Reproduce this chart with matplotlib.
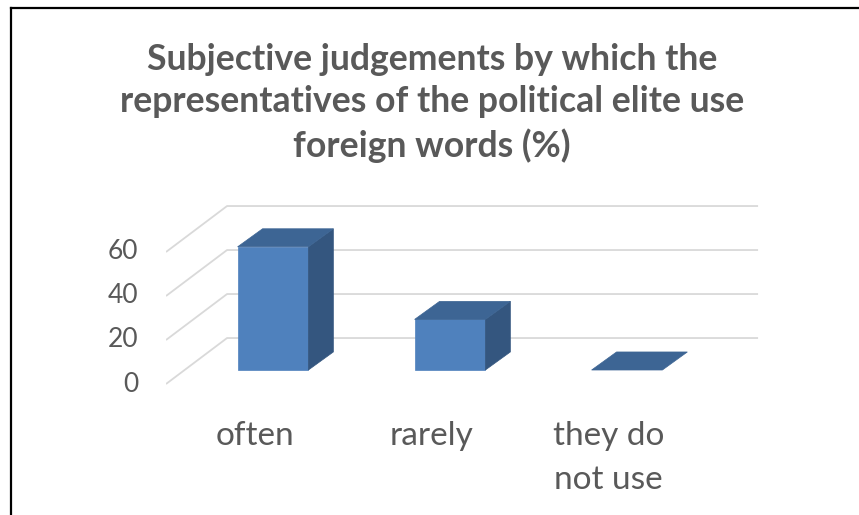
import matplotlib
matplotlib.use("Agg")
import matplotlib.pyplot as plt
from matplotlib.patches import Polygon
from matplotlib.lines import Line2D

categories = ["often", "rarely", "they do\nnot use"]
values = [56, 23, 0]
y_ticks = [0, 20, 40, 60]
title = ("Subjective judgements by which the\n"
         "representatives of the political elite use\n"
         "foreign words (%)")

FRONT = "#4F81BD"
TOP = "#3D6594"
SIDE = "#34567F"
TEXT = "#595959"
GRID = "#D9D9D9"

# fake 3d: oblique offset of the floor/back wall and of the bars
depth_dx, depth_dy = 0.345, 20.9
bar_off_x, bar_off_y = 0.1045, 6.36
bar_dx, bar_dy = 0.141, 8.2
bar_w = 0.40

plt.rcParams['font.family'] = ['Lato', 'DejaVu Sans']

fig = plt.figure(figsize=(8.59, 5.15), dpi=100)
W, H = 859, 515
px_x, px_y = 177.0, 2.2  # pixels per category / per value unit
x_lo, x_hi = -0.5, 2.9
y_lo, y_hi = -25, 85
ax = fig.add_axes([166 / W, 1 - (384 + (-y_lo) * px_y) / H,
                   (x_hi - x_lo) * px_x / W, (y_hi - y_lo) * px_y / H])
ax.set_xlim(x_lo, x_hi)
ax.set_ylim(y_lo, y_hi)
ax.axis("off")

n = len(categories)
for v in y_ticks:
    ax.plot([-0.5, -0.5 + depth_dx, n - 0.5 + depth_dx],
            [v, v + depth_dy, v + depth_dy], color=GRID, lw=1.3,
            solid_capstyle="butt", zorder=1)
    ax.annotate(str(v), (-0.5, v), xytext=(-20, 0), textcoords="offset points",
                ha="right", va="center", fontsize=19, color=TEXT)

for i, v in enumerate(values):
    x0 = i + bar_off_x - bar_w / 2
    x1 = x0 + bar_w
    b = bar_off_y
    t = b + v
    if v > 0:
        ax.bar(x0, v, width=bar_w, bottom=b, align="edge", color=FRONT,
               edgecolor=FRONT, lw=0.5, zorder=3)
        ax.add_patch(Polygon([(x1, b), (x1 + bar_dx, b + bar_dy),
                              (x1 + bar_dx, t + bar_dy), (x1, t)],
                             closed=True, fc=SIDE, ec=SIDE, lw=0.5, zorder=3))
    ax.add_patch(Polygon([(x0, t), (x1, t), (x1 + bar_dx, t + bar_dy),
                          (x0 + bar_dx, t + bar_dy)],
                         closed=True, fc=TOP, ec=TOP, lw=0.5, zorder=3))

for i, c in enumerate(categories):
    ax.annotate(c, (i, 0), xytext=(0, -26.5), textcoords="offset points",
                ha="center", va="top", fontsize=24, color=TEXT,
                linespacing=1.61, annotation_clip=False)

fig.text(432 / W, 1 - 103 / H, title, ha="center", va="center",
         fontsize=25.7, fontweight="bold", color=TEXT, linespacing=1.33)

# page frame (left and top border of the embedded chart)
fig.add_artist(Line2D([11 / W, 11 / W], [0, 1 - 8 / H], color="black", lw=1.6))
fig.add_artist(Line2D([11 / W, 1], [1 - 8 / H, 1 - 8 / H], color="black", lw=1.6))

fig.savefig("out.png", dpi=100)
